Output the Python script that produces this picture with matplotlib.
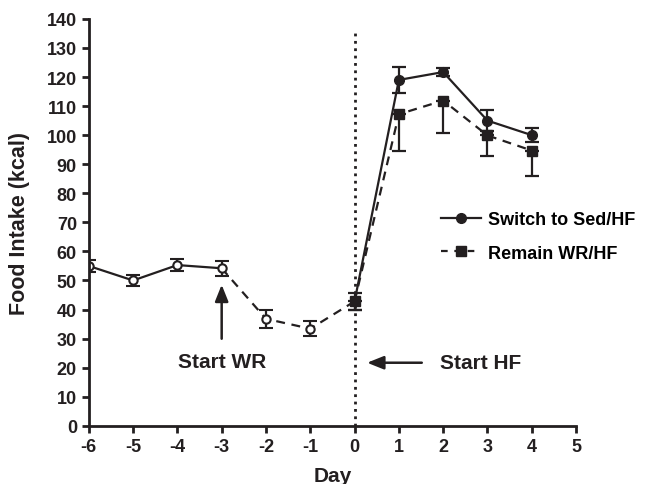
import matplotlib
matplotlib.use('Agg')
import matplotlib.pyplot as plt
from matplotlib.lines import Line2D

plt.rcParams['font.family'] = 'Liberation Sans'
plt.rcParams['font.weight'] = 'bold'
plt.rcParams['axes.unicode_minus'] = False

# baseline / WR period (shared by both groups)
pre_days = [-6, -5, -4, -3, -2, -1]
pre_vals = [55.0, 50.0, 55.3, 54.2, 36.8, 33.4]
pre_err = [2.0, 2.0, 2.0, 2.5, 3.0, 2.5]

# HF period
post_days = [0, 1, 2, 3, 4]
sed_vals = [42.8, 119.0, 121.7, 105.0, 100.0]
sed_err = [3.0, 4.5, 1.5, 3.5, 2.5]
wr_vals = [42.8, 107.2, 111.9, 99.9, 94.7]
wr_err = [3.0, 12.7, 11.0, 7.0, 8.6]

fig = plt.figure(figsize=(6.48, 4.85), dpi=100)
ax = fig.add_axes([0.137, 0.12, 0.752, 0.839])

c = '#231f20'
lw = 1.6

# pre period: solid until -3, dashed after
ax.plot(pre_days[:4], pre_vals[:4], '-', color=c, lw=lw)
ax.plot(pre_days[3:] + [0], pre_vals[3:] + [wr_vals[0]], '--', color=c, lw=lw, dashes=(4, 3))
ax.errorbar(pre_days, pre_vals, yerr=pre_err, fmt='o', color=c, mfc='white', mec=c,
            ms=6, mew=1.5, capsize=5, elinewidth=1.6, capthick=1.6)

# post period
ax.errorbar(post_days, wr_vals, yerr=[wr_err, [0, 0, 0, 0, 0]], fmt='s--', color=c, ms=7,
            lw=lw, dashes=(4, 3), capsize=5, elinewidth=1.6, capthick=1.6)
ax.errorbar(post_days, sed_vals, yerr=sed_err, fmt='o-', color=c, ms=7,
            lw=lw, capsize=5, elinewidth=1.6, capthick=1.6)

ax.plot([0, 0], [0, 136], ':', color=c, lw=2)

ax.annotate('', xy=(-3, 49.5), xytext=(-3, 29),
            arrowprops=dict(arrowstyle='-|>,head_length=1.0,head_width=0.4', color=c, lw=1.8))
ax.text(-3, 22, 'Start WR', ha='center', va='center', fontsize=15, fontweight='bold', color=c)
ax.annotate('', xy=(0.22, 21.7), xytext=(1.58, 21.7),
            arrowprops=dict(arrowstyle='-|>,head_length=1.0,head_width=0.4', color=c, lw=1.8))
ax.text(1.92, 21.7, 'Start HF', ha='left', va='center', fontsize=15, fontweight='bold', color=c)

handles = [Line2D([], [], color=c, marker='o', ms=7, lw=lw),
           Line2D([], [], color=c, marker='s', ms=7, lw=lw, ls='--', dashes=(3, 3))]
ax.legend(handles, ['Switch to Sed/HF', 'Remain WR/HF'], loc='center left',
          bbox_to_anchor=(0.69, 0.465), frameon=False, prop={'size': 13, 'weight': 'bold'},
          handlelength=2.2, labelspacing=0.9, handletextpad=0.4)

ax.set_xlim(-6, 5)
ax.set_ylim(0, 140)
ax.set_xticks(range(-6, 6))
ax.set_yticks(range(0, 141, 10))
ax.set_xlabel('Day', fontsize=15, fontweight='bold', color=c)
ax.set_ylabel('Food Intake (kcal)', fontsize=15.5, fontweight='bold', color=c)
ax.xaxis.set_label_coords(0.5, -0.1)
ax.yaxis.set_label_coords(-0.12, 0.5)
for s in ['top', 'right']:
    ax.spines[s].set_visible(False)
for s in ['left', 'bottom']:
    ax.spines[s].set_linewidth(2)
    ax.spines[s].set_color(c)
ax.tick_params(direction='out', length=5, width=2, labelsize=13, colors=c)
for t in ax.get_xticklabels() + ax.get_yticklabels():
    t.set_fontweight('bold')

fig.savefig('out.png', dpi=100)
